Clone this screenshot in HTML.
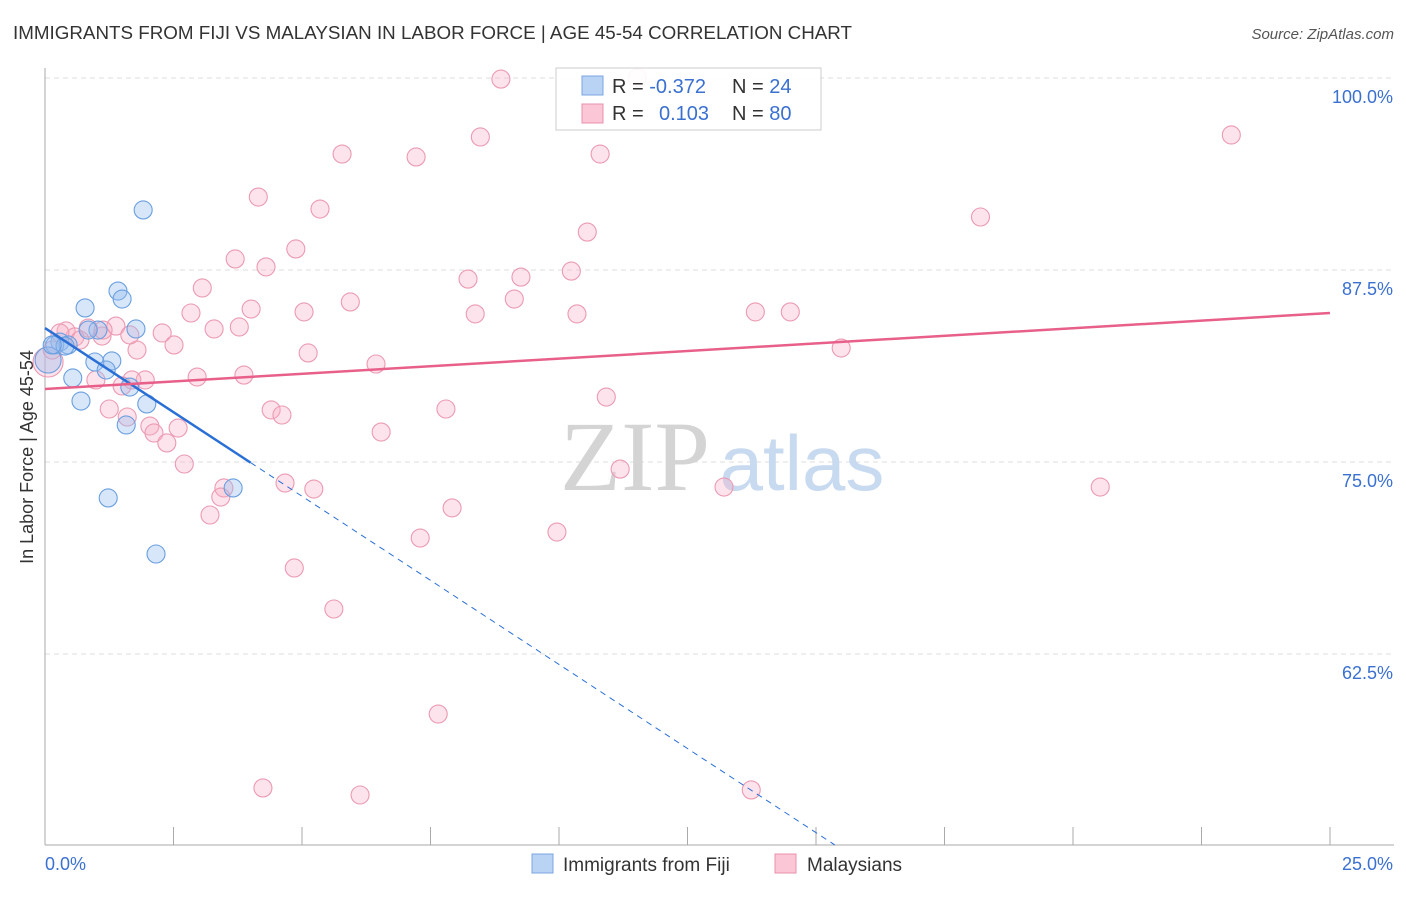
<!DOCTYPE html>
<html><head><meta charset="utf-8"><style>
body{margin:0;background:#fff;font-family:"Liberation Sans",sans-serif}
</style></head><body>
<svg id="chart" width="1406" height="892" xmlns="http://www.w3.org/2000/svg" font-family="Liberation Sans, sans-serif">
<text x="13" y="39" font-size="18" fill="#333" textLength="839" lengthAdjust="spacingAndGlyphs">IMMIGRANTS FROM FIJI VS MALAYSIAN IN LABOR FORCE | AGE 45-54 CORRELATION CHART</text>
<text x="1394" y="39" font-size="15" fill="#555" font-style="italic" text-anchor="end">Source: ZipAtlas.com</text>
<text transform="translate(33,457) rotate(-90)" font-size="18" fill="#333" text-anchor="middle">In Labor Force | Age 45-54</text>
<g id="grid"></g>
<g>
<text x="635" y="490" font-size="100" font-family="Liberation Serif, serif" fill="#d4d4d4" text-anchor="middle">ZIP</text>
<text x="802" y="490" font-size="78" fill="#c8daf0" text-anchor="middle">atlas</text>
</g>
<g id="marks"></g>
<g id="lines"></g>
<g>
<rect x="556" y="68" width="265" height="62" fill="#fff" fill-opacity="0.92" stroke="#ccc"/>
<rect x="582" y="76" width="21" height="19" fill="#b9d3f5" stroke="#7aa6e0"/>
<rect x="582" y="104" width="21" height="19" fill="#fbc6d5" stroke="#e890aa"/>
<text x="612" y="93" font-size="20" fill="#333">R = <tspan fill="#3a70d0">-0.372</tspan></text>
<text x="732" y="93" font-size="20" fill="#333">N = <tspan fill="#3a70d0">24</tspan></text>
<text x="612" y="120" font-size="20" fill="#333">R = <tspan fill="#3a70d0" x="659">0.103</tspan></text>
<text x="732" y="120" font-size="20" fill="#333">N = <tspan fill="#3a70d0">80</tspan></text>
</g>
<g>
<rect x="532" y="854" width="21" height="19" fill="#b9d3f5" stroke="#7aa6e0"/>
<text x="563" y="871" font-size="19" fill="#333">Immigrants from Fiji</text>
<rect x="775" y="854" width="21" height="19" fill="#fbc6d5" stroke="#e890aa"/>
<text x="807" y="871" font-size="19" fill="#333">Malaysians</text>
</g>
</svg>
<script>
const xTicks=[0,2.5,5,7.5,10,12.5,15,17.5,20,22.5,25];
const yTickValues=[62.5,75,87.5,100];
const yTickLabels=["62.5%","75.0%","87.5%","100.0%"];
const xEndLabels=["0.0%","25.0%"];
const fijiX=[1.91,1.42,1.50,0.78,1.77,1.03,0.84,0.29,0.19,0.45,0.97,1.30,1.19,0.54,1.65,0.70,1.98,1.58,1.23,3.66,2.16,0.06,0.39,0.14];
const fijiY=[91.41,86.13,85.61,85.03,83.66,83.59,83.59,82.81,82.62,82.62,81.51,81.58,80.99,80.47,79.88,78.97,78.78,77.41,72.66,73.31,69.01,81.64,82.55,82.62];
const malX=[8.87,11.52,23.08,8.47,5.78,7.22,10.80,4.15,5.35,18.20,10.55,4.88,3.70,4.30,10.24,8.23,9.26,3.06,9.13,5.94,2.84,4.01,5.04,8.37,10.35,13.82,14.50,3.78,3.29,2.28,1.38,0.84,0.41,0.58,1.11,2.51,1.79,5.12,15.49,6.44,2.96,3.87,0.99,1.95,1.69,1.50,1.25,4.40,4.61,7.80,10.92,1.60,2.04,2.59,2.12,2.37,6.54,2.71,11.19,13.21,20.53,4.67,5.23,3.48,3.42,7.92,3.21,7.30,9.96,4.85,5.62,7.65,4.24,6.13,13.74,0.06,0.14,0.29,0.68,1.13,1.65];
const malY=[99.93,100.0,96.29,96.16,95.05,94.86,95.05,92.25,91.47,90.95,89.97,88.87,88.22,87.70,87.43,86.91,87.04,86.33,85.61,85.42,84.70,84.96,84.77,84.64,84.64,84.77,84.77,83.79,83.66,83.40,83.85,83.72,83.53,83.14,83.20,82.62,82.29,82.10,82.42,81.38,80.53,80.66,80.34,80.34,80.34,79.95,78.45,78.39,78.06,78.45,79.23,77.93,77.34,77.21,76.89,76.24,76.95,74.87,74.54,73.37,73.37,73.63,73.24,73.31,72.72,72.01,71.55,70.05,70.44,68.10,65.43,58.59,53.78,53.32,53.65,81.51,82.29,83.40,82.94,83.59,83.27];
const fijiTrend=[83.72,-2.19]; const fijiSolidEnd=4.0;
const malTrend=[79.75,0.198];

const NS="http://www.w3.org/2000/svg";
const X=v=>45+v/25*1285;
const Y=v=>78+(100-v)*15.36;
function el(t,a,p){const e=document.createElementNS(NS,t);for(const k in a)e.setAttribute(k,a[k]);p.appendChild(e);return e;}
const grid=document.getElementById('grid');
yTickValues.forEach((v,i)=>{
 const l=el('line',{x1:45,x2:1394,y1:Y(v),y2:Y(v),stroke:'#ddd','stroke-dasharray':'5,4'},grid);
 
 
 const t=el('text',{x:1393,y:Y(v)+25,'font-size':18,fill:'#3a70d0','text-anchor':'end'},grid);
 t.textContent=yTickLabels[i];
 
 
});
const ax=el('line',{x1:45,x2:45,y1:68,y2:845,stroke:'#aaa'},grid);


const bx=el('line',{x1:45,x2:1394,y1:845,y2:845,stroke:'#aaa'},grid);


xTicks.forEach(v=>{const t=el('line',{x1:X(v),x2:X(v),y1:827,y2:845,stroke:'#aaa'},grid);
 
 });
const l0=el('text',{x:45,y:870,'font-size':18,fill:'#3a70d0'},grid);l0.textContent=xEndLabels[0];


const l1=el('text',{x:1393,y:870,'font-size':18,fill:'#3a70d0','text-anchor':'end'},grid);l1.textContent=xEndLabels[1];


const marks=document.getElementById('marks');
malX.forEach((x,i)=>{const r=i===75?15:9;
 const c=el('circle',{cx:X(x),cy:Y(malY[i]),r:r,fill:'rgba(248,176,198,0.35)',stroke:'#eb9ab2','stroke-width':1.1},marks);
 
 });
fijiX.forEach((x,i)=>{const r=i===21?13:9;
 const c=el('circle',{cx:X(x),cy:Y(fijiY[i]),r:r,fill:'rgba(150,190,240,0.38)',stroke:'#6a9fe0','stroke-width':1.1},marks);
 
 });
const lines=document.getElementById('lines');
const fy=x=>fijiTrend[0]+fijiTrend[1]*x;
const xEnd=(50.07-fijiTrend[0])/fijiTrend[1];
const f1=el('line',{x1:X(0),y1:Y(fy(0)),x2:X(fijiSolidEnd),y2:Y(fy(fijiSolidEnd)),stroke:'#2a6fd6','stroke-width':2.5},lines);


const f2=el('line',{x1:X(fijiSolidEnd),y1:Y(fy(fijiSolidEnd)),x2:X(xEnd),y2:Y(fy(xEnd)),stroke:'#2a6fd6','stroke-width':1,'stroke-dasharray':'6,5'},lines);


const m=el('line',{x1:X(0),y1:Y(malTrend[0]),x2:X(25),y2:Y(malTrend[0]+malTrend[1]*25),stroke:'#e8608a','stroke-width':2.5},lines);


</script>
</body></html>
